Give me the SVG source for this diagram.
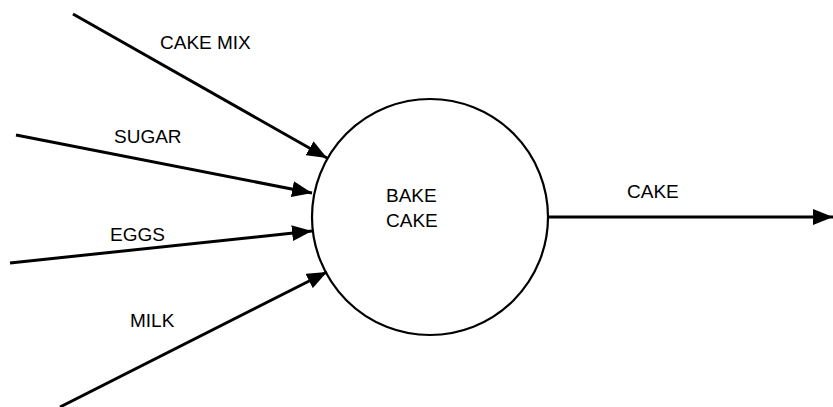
<svg xmlns="http://www.w3.org/2000/svg" width="833" height="407" viewBox="0 0 833 407">
<style>
text{font-family:"Liberation Sans",Arial,sans-serif;font-size:19px;fill:#000}
.flow{stroke:#000;stroke-width:3;fill:none;marker-end:url(#ah)}
</style>
<defs>
<marker id="ah" viewBox="0 0 20 16" refX="20" refY="8" markerWidth="20" markerHeight="16" markerUnits="userSpaceOnUse" orient="auto">
<path d="M0,0 L20,8 L0,16 Z" fill="#000"/>
</marker>
</defs>
<rect width="833" height="407" fill="#fff"/>
<g id="bake-cake">
<circle cx="430" cy="217" r="118" fill="none" stroke="#000" stroke-width="2.2"/>
<text x="386" y="202">BAKE</text>
<text x="386" y="227">CAKE</text>
</g>
<g id="connectors">
<path class="flow" d="M73,14 L327,158"/>
<path class="flow" d="M16,135 L312,193"/>
<path class="flow" d="M10,263 L312,231"/>
<path class="flow" d="M60,407 L327,272"/>
<path class="flow" d="M547,217 L833,217"/>
<text x="160" y="49">CAKE MIX</text>
<text x="114" y="143">SUGAR</text>
<text x="110" y="241">EGGS</text>
<text x="130" y="327">MILK</text>
<text x="627" y="198">CAKE</text>
</g>
</svg>
